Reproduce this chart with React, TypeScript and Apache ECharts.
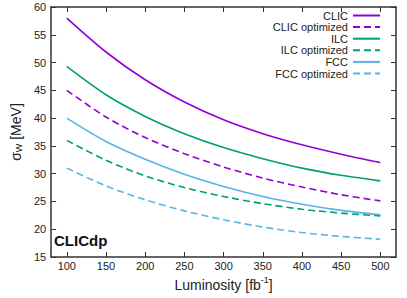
import React, { useEffect, useRef } from "react";
import * as echarts from "echarts";

const luminosity = [100, 150, 200, 250, 300, 350, 400, 450, 500];
const clic = [58, 51.9, 46.9, 42.9, 39.7, 37.2, 35.2, 33.5, 32.0];
const clicOpt = [45, 40.2, 36.5, 33.6, 31.2, 29.2, 27.6, 26.2, 25.1];
const ilc = [49.3, 44.2, 40.3, 37.2, 34.7, 32.7, 31.0, 29.7, 28.7];
const ilcOpt = [36, 32.4, 29.6, 27.5, 25.9, 24.6, 23.6, 22.9, 22.4];
const fcc = [40, 35.8, 32.6, 29.9, 27.7, 25.9, 24.5, 23.4, 22.6];
const fccOpt = [31, 27.8, 25.3, 23.3, 21.7, 20.4, 19.4, 18.7, 18.2];
const xTicks = [100, 150, 200, 250, 300, 350, 400, 450, 500];

const FONT = "'Liberation Sans', Arial, sans-serif";
const AXIS = "#333";
const TXT = "#222";

function mk(name: string, vals: number[], color: string, dashed: boolean) {
  return {
    name,
    type: "line",
    smooth: 0.3,
    symbol: "none",
    xAxisIndex: 0,
    yAxisIndex: 0,
    data: luminosity.map((x, i) => [x, vals[i]]),
    lineStyle: { color, width: 1.6, type: dashed ? [7, 4] : "solid" },
    itemStyle: { color },
  };
}

export default function App() {
  const ref = useRef<HTMLDivElement>(null);
  useEffect(() => {
    if (!ref.current) return;
    const chart = echarts.init(ref.current, undefined, { renderer: "svg" });
    const tickCommon = { show: true, inside: true, length: 5, lineStyle: { color: AXIS, width: 1 } };
    chart.setOption({
      animation: false,
      backgroundColor: "#fff",
      textStyle: { fontFamily: FONT },
      grid: { left: 44, right: 11, top: 7, bottom: 41, containLabel: false },
      legend: {
        orient: "vertical",
        right: 21,
        top: 5,
        align: "right",
        itemWidth: 27,
        itemHeight: 11,
        itemGap: 0.6,
        itemStyle: { color: "transparent", borderColor: "transparent", borderWidth: 0, opacity: 0 },
        textStyle: { fontFamily: FONT, fontSize: 11, color: TXT, lineHeight: 11 },
        data: ["CLIC", "CLIC optimized", "ILC", "ILC optimized", "FCC", "FCC optimized"],
      },
      xAxis: [
        {
          type: "value",
          min: 80,
          max: 520,
          name: "{n|Luminosity [fb}{s|-1}{n|]}",
          nameLocation: "middle",
          nameGap: 17,
          nameTextStyle: {
            rich: {
              n: { fontFamily: FONT, fontSize: 14, color: TXT, verticalAlign: "bottom", lineHeight: 16 },
              s: { fontFamily: FONT, fontSize: 9, color: TXT, verticalAlign: "top", lineHeight: 16, padding: [0, 0, 6, 0] },
            },
          },
          axisLine: { show: true, lineStyle: { color: AXIS, width: 1.5 } },
          axisTick: { ...tickCommon, customValues: xTicks },
          axisLabel: { customValues: xTicks, fontFamily: FONT, fontSize: 11, color: TXT, margin: 3 },
          splitLine: { show: false },
        },
        {
          type: "value",
          position: "top",
          min: 80,
          max: 520,
          axisLine: { show: true, lineStyle: { color: AXIS, width: 1.5 } },
          axisTick: { ...tickCommon, customValues: xTicks },
          axisLabel: { show: false },
          splitLine: { show: false },
        },
      ],
      yAxis: [
        {
          type: "value",
          min: 15,
          max: 60,
          interval: 5,
          name: "{n|σ}{s|W}{n| [MeV]}",
          nameLocation: "middle",
          nameGap: 25,
          nameRotate: 90,
          nameTextStyle: {
            rich: {
              n: { fontFamily: FONT, fontSize: 14, color: TXT, lineHeight: 16 },
              s: { fontFamily: FONT, fontSize: 9, color: TXT, lineHeight: 16, padding: [6, 0, 0, 0] },
            },
          },
          axisLine: { show: true, lineStyle: { color: AXIS, width: 1.5 } },
          axisTick: tickCommon,
          axisLabel: { fontFamily: FONT, fontSize: 11, color: TXT, margin: 5 },
          splitLine: { show: false },
        },
        {
          type: "value",
          position: "right",
          min: 15,
          max: 60,
          interval: 5,
          axisLine: { show: true, lineStyle: { color: AXIS, width: 1.5 } },
          axisTick: tickCommon,
          axisLabel: { show: false },
          splitLine: { show: false },
        },
      ],
      graphic: [
        {
          type: "text",
          left: 54,
          top: 233,
          style: { text: "CLICdp", fontFamily: FONT, fontSize: 15, fontWeight: "bold", fill: "#111" },
        },
      ],
      series: [
        mk("CLIC", clic, "#9400D3", false),
        mk("CLIC optimized", clicOpt, "#9400D3", true),
        mk("ILC", ilc, "#009E73", false),
        mk("ILC optimized", ilcOpt, "#009E73", true),
        mk("FCC", fcc, "#56B4E9", false),
        mk("FCC optimized", fccOpt, "#56B4E9", true),
      ],
    });
    return () => chart.dispose();
  }, []);
  return <div ref={ref} style={{ width: 407, height: 298, position: "absolute", left: 0, top: 0 }} />;
}
